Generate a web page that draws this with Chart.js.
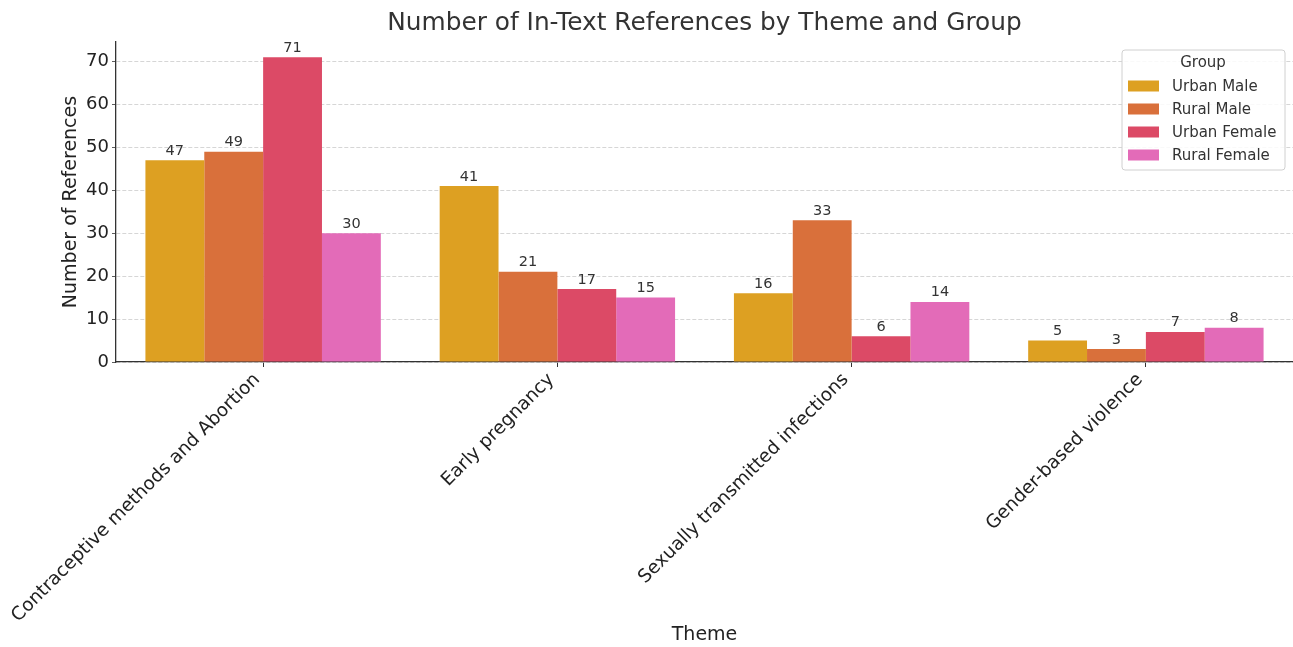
<!DOCTYPE html>
<html>
<head>
<meta charset="utf-8">
<script src="https://cdn.jsdelivr.net/npm/chart.js@4.4.1/dist/chart.umd.min.js"></script>
<style>
html,body{margin:0;padding:0;background:#fff;}
#wrap{width:1293px;height:647px;}
</style>
</head>
<body>
<div id="wrap"><canvas id="c" width="1293" height="647"></canvas></div>
<script>
const categories = ["Contraceptive methods and Abortion", "Early pregnancy", "Sexually transmitted infections", "Gender-based violence"];
const groups = ["Urban Male", "Rural Male", "Urban Female", "Rural Female"];
const urbanMale = [47, 41, 16, 5];
const ruralMale = [49, 21, 33, 3];
const urbanFemale = [71, 17, 6, 7];
const ruralFemale = [30, 15, 14, 8];
const yTicks = [0, 10, 20, 30, 40, 50, 60, 70];
const colors = ["#dda022", "#d9703b", "#dc4a66", "#e36bb8"];
const titleText = "Number of In-Text References by Theme and Group";

const FONT = "'DejaVu Sans', sans-serif";
const series = [urbanMale, ruralMale, urbanFemale, ruralFemale];

const valueLabels = {
  id: 'valueLabels',
  afterDatasetsDraw(chart) {
    const ctx = chart.ctx;
    ctx.save();
    ctx.font = "14.5px " + FONT;
    ctx.fillStyle = "#333";
    ctx.textAlign = "center";
    ctx.textBaseline = "bottom";
    chart.data.datasets.forEach((ds, i) => {
      const meta = chart.getDatasetMeta(i);
      meta.data.forEach((el, j) => {
        ctx.fillText(String(ds.data[j]), el.x, el.y - 2);
      });
    });
    ctx.restore();
  }
};

const axesTitle = {
  id: 'axesTitle',
  afterDraw(chart) {
    const ctx = chart.ctx;
    const a = chart.chartArea;
    ctx.save();
    ctx.font = "24.8px " + FONT;
    ctx.fillStyle = "#333";
    ctx.textAlign = "center";
    ctx.textBaseline = "middle";
    ctx.fillText(titleText, (a.left + a.right) / 2, 24);
    ctx.restore();
  }
};

const boxLegend = {
  id: 'boxLegend',
  afterDraw(chart) {
    const ctx = chart.ctx;
    const a = chart.chartArea;
    const w = 163, h = 120;
    const x = a.right - 171, y = a.top + 8;
    ctx.save();
    ctx.beginPath();
    if (ctx.roundRect) ctx.roundRect(x, y, w, h, 3); else ctx.rect(x, y, w, h);
    ctx.fillStyle = "rgba(255,255,255,0.85)";
    ctx.fill();
    ctx.strokeStyle = "#d0d0d0";
    ctx.lineWidth = 1;
    ctx.stroke();
    ctx.font = "15px " + FONT;
    ctx.fillStyle = "#333";
    ctx.textAlign = "center";
    ctx.textBaseline = "middle";
    ctx.fillText("Group", x + 81, y + 13);
    chart.data.datasets.forEach((ds, i) => {
      const cy = y + 36 + i * 23;
      ctx.fillStyle = ds.backgroundColor;
      ctx.fillRect(x + 6, cy - 5.5, 31, 11);
      ctx.fillStyle = "#333";
      ctx.textAlign = "left";
      ctx.fillText(ds.label, x + 50, cy + 1);
    });
    ctx.restore();
  }
};

new Chart(document.getElementById('c'), {
  type: 'bar',
  data: {
    labels: categories,
    datasets: groups.map((g, i) => ({
      label: g,
      data: series[i],
      backgroundColor: colors[i],
      borderWidth: 0,
      categoryPercentage: 0.8,
      barPercentage: 1.0
    }))
  },
  options: {
    responsive: false,
    animation: false,
    devicePixelRatio: 1,
    layout: { padding: { left: 0, right: 0, top: 42, bottom: 0 } },
    plugins: {
      legend: { display: false },
      tooltip: { enabled: false },
      title: { display: false }
    },
    scales: {
      x: {
        offset: true,
        grid: { display: true, drawOnChartArea: false, drawTicks: true, tickLength: 5, tickColor: "#333", offset: false },
        border: { display: true, color: "#333", width: 1.3 },
        ticks: {
          color: "#222",
          font: { family: FONT, size: 18.5 },
          minRotation: 45, maxRotation: 45,
          autoSkip: false,
          padding: 2,
          labelOffset: -6
        },
        title: {
          display: true,
          text: "Theme",
          color: "#222",
          font: { family: FONT, size: 19 },
          padding: { top: 0, bottom: 1 }
        },
        afterFit(scale) { scale.height = 285; }
      },
      y: {
        min: 0,
        max: 74.55,
        grid: { color: "#cccccc", lineWidth: 0.8, drawTicks: true, tickLength: 4, tickColor: "#333", tickBorderDash: [] },
        border: { display: true, color: "#333", width: 1.3, dash: [4, 2] },
        ticks: {
          stepSize: 10,
          includeBounds: false,
          color: "#222",
          font: { family: FONT, size: 18 },
          padding: 3,
          callback: (v) => yTicks.includes(v) ? String(v) : null
        },
        title: {
          display: true,
          text: "Number of References",
          color: "#222",
          font: { family: FONT, size: 19 },
          padding: { top: 60, bottom: 0 }
        },
        afterFit(scale) { scale.width = 116; }
      }
    }
  },
  plugins: [valueLabels, axesTitle, boxLegend]
});
</script>
</body>
</html>
